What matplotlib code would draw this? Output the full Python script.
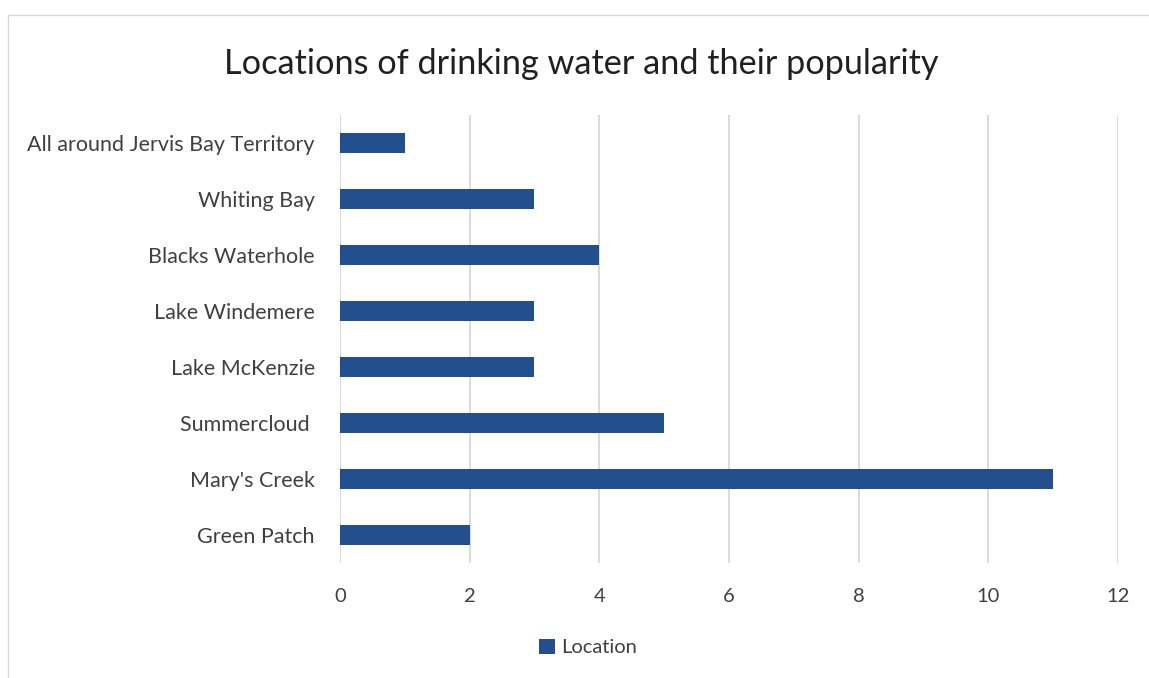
import matplotlib.pyplot as plt
from matplotlib.patches import Rectangle

plt.rcParams['font.family'] = ['Lato', 'DejaVu Sans']

places = ["Green Patch", "Mary's Creek", "Summercloud ", "Lake McKenzie",
          "Lake Windemere", "Blacks Waterhole", "Whiting Bay",
          "All around Jervis Bay Territory"]
counts = [2, 11, 5, 3, 3, 4, 3, 1]
xticks = [0, 2, 4, 6, 8, 10, 12]

fig = plt.figure(figsize=(11.49, 6.78), dpi=100)
ax = fig.add_axes([0.2959, 0.1696, 0.677, 0.6608])

ax.barh(places, counts, height=0.37, color='#234f8e', label='Location', zorder=3)
ax.set_xlim(0, 12)
ax.set_ylim(-0.5, 7.5)
ax.set_xticks(xticks)
ax.grid(axis='x', color='#d4d4d4', linewidth=1.2, zorder=0)
for s in ax.spines.values():
    s.set_visible(False)
ax.tick_params(length=0, colors='#404040')
ax.tick_params(axis='y', labelsize=15.5, pad=18)
ax.tick_params(axis='x', labelsize=14.5, pad=18)

fig.text(0.506, 0.906, 'Locations of drinking water and their popularity',
         ha='center', va='center', fontsize=24.7, color='#202020')

fig.legend(loc='center', bbox_to_anchor=(0.512, 0.045), frameon=False,
           fontsize=14.5, handlelength=0.8, handleheight=0.8, handletextpad=0.3,
           labelcolor='#404040')

fig.patches.append(Rectangle((0.007, -0.01), 1.0, 0.988, transform=fig.transFigure,
                             fill=False, edgecolor='#d8d8d8', linewidth=1))

fig.savefig('out.png', dpi=100)
